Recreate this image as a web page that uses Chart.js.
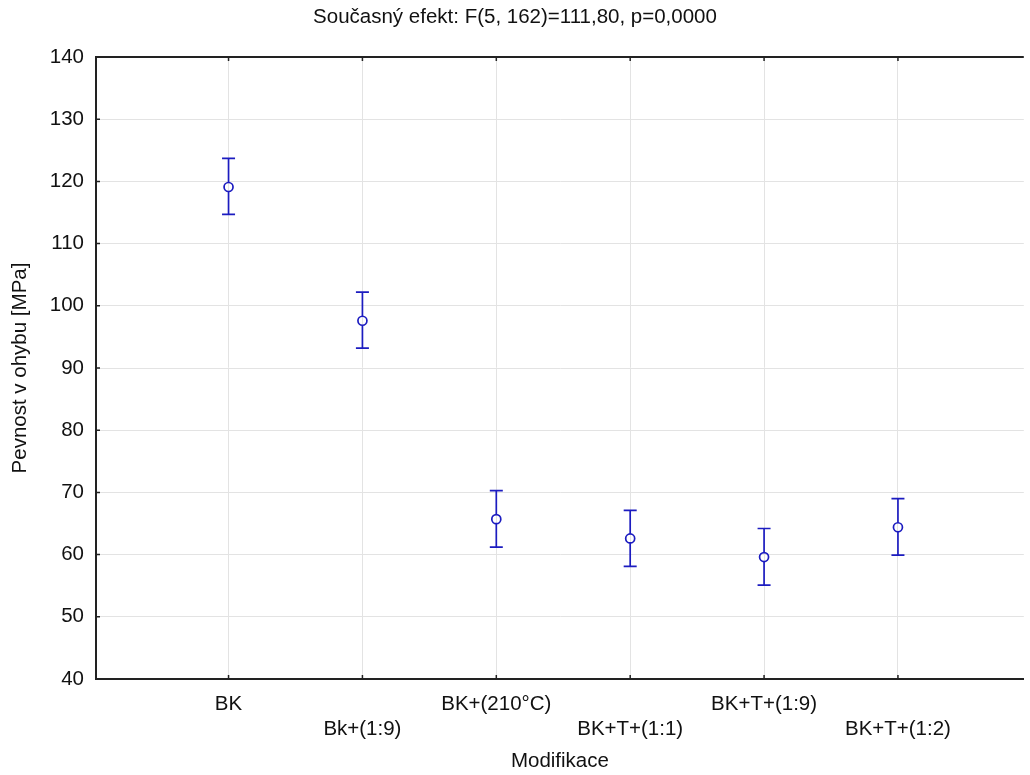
<!DOCTYPE html>
<html>
<head>
<meta charset="utf-8">
<script src="https://cdn.jsdelivr.net/npm/chart.js@4/dist/chart.umd.min.js"></script>
<style>
  html, body { margin: 0; padding: 0; background: #fff; overflow: hidden; }
  #wrap { width: 1030px; height: 775px; }
</style>
</head>
<body>
<div id="wrap"><canvas id="chart" width="1030" height="775"></canvas></div>
<script>
// Data
const categories = ['BK', 'Bk+(1:9)', 'BK+(210°C)', 'BK+T+(1:1)', 'BK+T+(1:9)', 'BK+T+(1:2)'];
const means = [119.1, 97.6, 65.7, 62.6, 59.6, 64.4];
const lower = [114.7, 93.2, 61.2, 58.1, 55.1, 59.9];
const upper = [123.7, 102.2, 70.3, 67.1, 64.2, 69.0];
const yTicks = [40, 50, 60, 70, 80, 90, 100, 110, 120, 130, 140];

const BLUE = '#1c1cc0';
const FONT = 'Liberation Sans, Arial, sans-serif';
const FS = 20.5;

// error bars, inward ticks and top frame line
const errorBars = {
    id: 'errorBars',
    afterDatasetsDraw(chart) {
        const { ctx, chartArea, scales } = chart;
        const xs = scales.x, ys = scales.y;
        ctx.save();
        ctx.strokeStyle = BLUE;
        ctx.lineWidth = 1.7;
        categories.forEach((c, i) => {
            const x = xs.getPixelForValue(i);
            const yl = ys.getPixelForValue(lower[i]);
            const yu = ys.getPixelForValue(upper[i]);
            const ym = ys.getPixelForValue(means[i]);
            ctx.beginPath();
            ctx.moveTo(x, yu); ctx.lineTo(x, ym - 4.5);
            ctx.moveTo(x, ym + 4.5); ctx.lineTo(x, yl);
            ctx.moveTo(x - 6.5, yu); ctx.lineTo(x + 6.5, yu);
            ctx.moveTo(x - 6.5, yl); ctx.lineTo(x + 6.5, yl);
            ctx.stroke();
        });
        // frame top line and inward ticks
        ctx.strokeStyle = '#222';
        ctx.lineWidth = 2;
        ctx.beginPath();
        ctx.moveTo(chartArea.left, chartArea.top);
        ctx.lineTo(chartArea.right, chartArea.top);
        ctx.stroke();
        ctx.lineWidth = 1.5;
        ctx.beginPath();
        categories.forEach((c, i) => {
            const x = xs.getPixelForValue(i);
            ctx.moveTo(x, chartArea.bottom); ctx.lineTo(x, chartArea.bottom - 4);
            ctx.moveTo(x, chartArea.top); ctx.lineTo(x, chartArea.top + 4);
        });
        yTicks.forEach(v => {
            const y = ys.getPixelForValue(v);
            ctx.moveTo(chartArea.left, y); ctx.lineTo(chartArea.left + 4, y);
        });
        ctx.stroke();
        ctx.restore();
    }
};

const ctx = document.getElementById('chart').getContext('2d');
new Chart(ctx, {
    type: 'scatter',
    data: {
        datasets: [{
            data: means.map((m, i) => ({ x: i, y: m })),
            pointStyle: 'circle',
            pointRadius: 4.5,
            pointBorderWidth: 1.7,
            pointBorderColor: BLUE,
            pointBackgroundColor: 'rgba(0,0,0,0)',
            showLine: false
        }]
    },
    options: {
        responsive: false,
        animation: false,
        layout: { padding: 0 },
        plugins: {
            legend: { display: false },
            tooltip: { enabled: false },
            title: {
                display: true,
                text: 'Současný efekt: F(5, 162)=111,80, p=0,0000',
                color: '#111',
                font: { family: FONT, size: FS, weight: 'normal', lineHeight: 1.2 },
                padding: { top: 5, bottom: 27.4 }
            }
        },
        scales: {
            x: {
                type: 'linear',
                min: -0.99,
                max: 5.94,
                afterBuildTicks: (scale) => {
                    scale.ticks = categories.map((c, i) => ({ value: i }));
                },
                afterFit: (scale) => { scale.height = 96; },
                ticks: {
                    color: '#111',
                    font: { family: FONT, size: FS, lineHeight: 1.22 },
                    maxRotation: 0,
                    autoSkip: false,
                    padding: 13,
                    callback: (v) => (v % 2 === 1 ? ['', categories[v]] : categories[v])
                },
                grid: { color: '#e3e3e3', lineWidth: 1, drawTicks: false },
                border: { display: true, color: '#222', width: 2 },
                title: {
                    display: true,
                    text: 'Modifikace',
                    color: '#111',
                    font: { family: FONT, size: FS, lineHeight: 1.2 },
                    padding: { top: 2, bottom: 1 }
                }
            },
            y: {
                min: 40,
                max: 140,
                afterBuildTicks: (scale) => {
                    scale.ticks = yTicks.map(v => ({ value: v }));
                },
                afterFit: (scale) => { scale.width = 96; },
                ticks: {
                    color: '#111',
                    font: { family: FONT, size: FS },
                    padding: 12
                },
                grid: { color: '#e3e3e3', lineWidth: 1, drawTicks: false },
                border: { display: true, color: '#222', width: 2 },
                title: {
                    display: true,
                    text: 'Pevnost v ohybu [MPa]',
                    color: '#111',
                    font: { family: FONT, size: FS, lineHeight: 1.2 },
                    padding: { top: 8, bottom: 0 }
                }
            }
        }
    },
    plugins: [errorBars]
});
</script>
</body>
</html>
